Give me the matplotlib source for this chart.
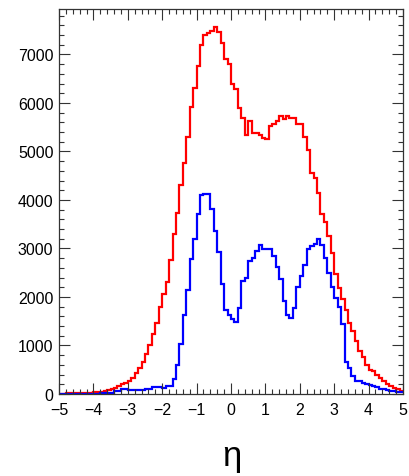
import numpy as np
import matplotlib
matplotlib.use("Agg")
from matplotlib import pyplot as plt
from matplotlib.ticker import MultipleLocator

plt.rcParams['font.family'] = ['Liberation Sans', 'DejaVu Sans']

# eta binning: 100 bins from -5 to 5
eta_lo, eta_hi, nbins = -5.0, 5.0, 100

# red histogram, bin contents from eta=-5 upwards
red_counts = [
    8, 10, 12, 14, 16, 18, 20, 22, 25, 30,
    35, 40, 45, 58, 75, 93, 127, 161, 196, 231,
    278, 334, 440, 540, 650, 835, 1007, 1247, 1454, 1790,
    2072, 2313, 2773, 3309, 3722, 4300, 4767, 5303, 5914, 6313,
    6759, 7206, 7392, 7440, 7480, 7560, 7460, 7230, 6900, 6810,
    6390, 6295, 5900, 5700, 5350, 5625, 5385, 5385, 5330, 5282,
    5262, 5522, 5577, 5625, 5728, 5660, 5728, 5690, 5700, 5577,
    5577, 5290, 5021, 4560, 4457, 4148, 3715, 3542, 3254, 2911,
    2464, 2190, 1962, 1722, 1454, 1295, 1089, 883, 766, 608,
    505, 470, 402, 334, 264, 196, 160, 130, 100, 70,
]

# blue histogram
blue_counts = [
    5, 5, 5, 6, 6, 7, 7, 8, 8, 9,
    10, 10, 12, 14, 16, 20, 55, 65, 105, 95,
    90, 88, 88, 90, 92, 105, 108, 140, 145, 148,
    130, 158, 165, 309, 591, 1031, 1622, 2151, 2784, 3203,
    3718, 4100, 4130, 4130, 3814, 3368, 2921, 2275, 1725, 1636,
    1540, 1481, 1777, 2326, 2395, 2739, 2808, 2945, 3082, 2993,
    2993, 2993, 2841, 2615, 2361, 1913, 1639, 1570, 1777, 2210,
    2443, 2670, 2993, 3047, 3103, 3186, 3082, 2808, 2499, 2210,
    1983, 1790, 1433, 670, 545, 375, 265, 262, 231, 210,
    185, 165, 150, 107, 95, 79, 65, 58, 45, 40,
]

edges = np.linspace(eta_lo, eta_hi, nbins + 1)

fig = plt.figure(figsize=(4.10, 4.77), dpi=100)
ax = fig.add_axes([59 / 410, 82 / 477, 344 / 410, 385 / 477])

ax.stairs(red_counts, edges, color='#ff0000', linewidth=1.6, baseline=None)
ax.stairs(blue_counts, edges, color='#0000ff', linewidth=1.6, baseline=None)

ax.set_xlim(eta_lo, eta_hi)
ax.set_ylim(0, max(red_counts) * 1.05)

ax.xaxis.set_major_locator(MultipleLocator(1))
ax.xaxis.set_minor_locator(MultipleLocator(0.2))
ax.yaxis.set_major_locator(MultipleLocator(1000))
ax.yaxis.set_minor_locator(MultipleLocator(200))

ax.tick_params(which='both', direction='in', top=True, right=True,
               width=0.8, color='#333333')
ax.tick_params(which='major', length=8)
ax.tick_params(which='minor', length=3.8)
ax.tick_params(axis='x', which='major', labelsize=11.5, pad=6)
ax.tick_params(axis='y', which='major', labelsize=11.5, pad=4)

for s in ax.spines.values():
    s.set_linewidth(0.9)
    s.set_color('#333333')

fig.text(232 / 410, 0.024, 'η', fontsize=25, ha='center', va='baseline')

plt.savefig('out.png', dpi=100)
